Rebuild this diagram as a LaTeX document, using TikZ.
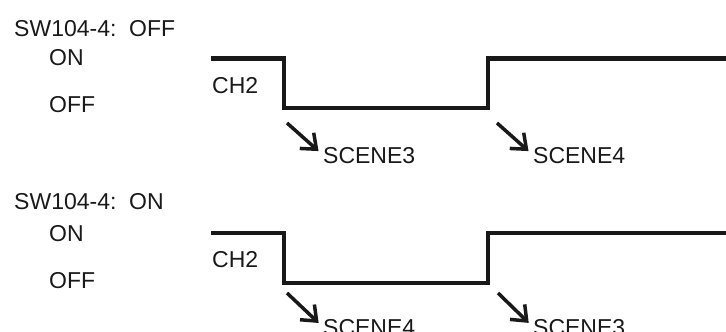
\documentclass[tikz,border=0pt]{standalone}
\usepackage{fontspec}
\setmainfont{Liberation Sans}
\usetikzlibrary{arrows.meta}
\begin{document}
\begin{tikzpicture}[x=1pt, y=-1pt, sig/.style={line width=4.5pt, tdInk, line join=miter, line cap=butt}, lbl/.style={font=\fontsize{23}{27}\selectfont, text=tdInk, anchor=base west, inner sep=0pt}, pointer/.style={-{Straight Barb[length=13pt, width=21pt, line width=3.5pt]}, line width=3.5pt, tdInk, shorten >=6pt}]
\definecolor{tdInk}{rgb}{0.10,0.10,0.10}
\useasboundingbox (0,0) rectangle (726,332);
% upper chart: switch off
\node[lbl] (swa) at (14,36) {SW104-4:\ \ OFF};
\node[lbl] (ona) at (49,65) {ON};
\node[lbl] (offa) at (49,112) {OFF};
\node[lbl] (cha) at (212,93) {CH2};
\draw[sig] (211,58.5) -- (284,58.5) -- (284,108) -- (488,108) -- (488,58.5) -- (727,58.5);
\coordinate (pa1) at (287,123);
\coordinate (pa2) at (497,123);
\node[lbl] (sa1) at (323,163) {SCENE3};
\node[lbl] (sa2) at (533,163) {SCENE4};
\draw[pointer] (pa1) -- (sa1.west);
\draw[pointer] (pa2) -- (sa2.west);
% lower chart: switch on
\node[lbl] (swb) at (14,209) {SW104-4:\ \ ON};
\node[lbl] (onb) at (49,241) {ON};
\node[lbl] (offb) at (49,288) {OFF};
\node[lbl] (chb) at (212,267) {CH2};
\draw[sig] (211,233) -- (284,233) -- (284,283) -- (488,283) -- (488,233) -- (727,233);
\coordinate (pb1) at (287,293);
\coordinate (pb2) at (498,293);
\node[lbl] (sb1) at (323,335) {SCENE4};
\node[lbl] (sb2) at (533,335) {SCENE3};
\draw[pointer] (pb1) -- (sb1.west);
\draw[pointer] (pb2) -- (sb2.west);
\end{tikzpicture}
\end{document}
